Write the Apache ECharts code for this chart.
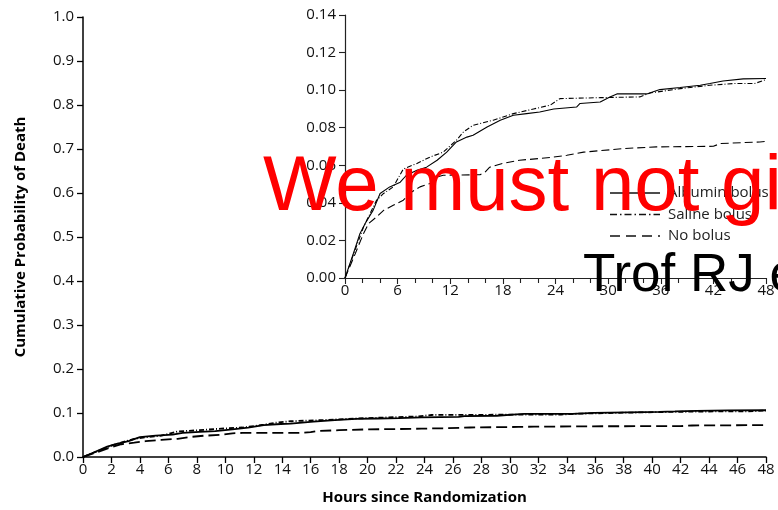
<!DOCTYPE html>
<html>
<head>
<meta charset="utf-8">
<script src="https://cdn.jsdelivr.net/npm/echarts@6/dist/echarts.min.js"></script>
<style>
html,body{margin:0;padding:0;background:#fff;}
#chart{width:778px;height:510px;}
</style>
</head>
<body>
<div id="chart"></div>
<script>
// ---- Data ----
const seriesNames = ['Albumin bolus', 'Saline bolus', 'No bolus'];

const albuminHours = [0, 0.95, 1.7, 2.3, 3.2, 4.0, 5.1, 6.3, 7.0, 8.2, 9.3, 10.5, 11.6, 12.7, 13.9, 14.6, 16.2, 17.7, 19.2, 20.7, 22.2, 23.8, 26.4, 26.8, 29.1, 30.2, 31.0, 34.4, 35.9, 38.2, 40.5, 41.6, 43.1, 45.4, 48];
const albuminProb  = [0, 0.013, 0.0236, 0.029, 0.036, 0.045, 0.0485, 0.051, 0.0547, 0.0573, 0.059, 0.0627, 0.067, 0.0724, 0.075, 0.076, 0.0804, 0.084, 0.0866, 0.0875, 0.0884, 0.090, 0.091, 0.0929, 0.0937, 0.0964, 0.098, 0.098, 0.1003, 0.1014, 0.1026, 0.1035, 0.1049, 0.106, 0.1062];

const salineHours = [0, 1.0, 2.1, 3.6, 4.4, 5.5, 6.65, 8.2, 9.7, 11.2, 12.7, 13.5, 14.6, 16.9, 19.2, 21.5, 23.4, 24.5, 29.1, 33.6, 34.8, 38.2, 41.6, 44.3, 46.7, 48];
const salineProb  = [0, 0.013, 0.027, 0.0414, 0.045, 0.0485, 0.058, 0.061, 0.0644, 0.067, 0.0733, 0.0777, 0.0813, 0.084, 0.0875, 0.090, 0.092, 0.0955, 0.0960, 0.0964, 0.0985, 0.1008, 0.1026, 0.1035, 0.1035, 0.1056];

const noBolusHours = [0, 1.0, 2.1, 2.7, 3.6, 4.4, 5.5, 6.65, 7.6, 8.55, 9.7, 10.5, 11.2, 15.4, 16.0, 16.5, 18.0, 19.9, 22.2, 23.8, 25.3, 27.2, 30.6, 31.7, 35.5, 42.0, 42.8, 47.3, 48];
const noBolusProb  = [0, 0.011, 0.0236, 0.029, 0.0325, 0.036, 0.0387, 0.0414, 0.0458, 0.0485, 0.0503, 0.0538, 0.0547, 0.0550, 0.0565, 0.059, 0.061, 0.0627, 0.0636, 0.0644, 0.0653, 0.067, 0.0684, 0.0689, 0.0698, 0.0701, 0.0716, 0.0724, 0.0727];

const mainYTicks = [0, 0.1, 0.2, 0.3, 0.4, 0.5, 0.6, 0.7, 0.8, 0.9, 1.0];
const mainXTicks = [0, 2, 4, 6, 8, 10, 12, 14, 16, 18, 20, 22, 24, 26, 28, 30, 32, 34, 36, 38, 40, 42, 44, 46, 48];
const insetYTicks = [0, 0.02, 0.04, 0.06, 0.08, 0.10, 0.12, 0.14];
const insetXTicks = [0, 6, 12, 18, 24, 30, 36, 42, 48];

const overlayText1 = 'We must not give up';
const overlayText2 = 'Trof RJ et al.';

// ---- Build ----
function pairs(h, v) { return h.map((x, i) => [x, v[i]]); }
const dataSets = [pairs(albuminHours, albuminProb), pairs(salineHours, salineProb), pairs(noBolusHours, noBolusProb)];
const insetDash = [null, [5, 2, 1, 2], [8, 4]];
const legendDash = [null, [7, 3, 1.5, 3], [10, 6]];
const mainDash = ['solid', [5, 2, 1, 2], [11, 5]];

const FONT = '"Open Sans", "Noto Sans", sans-serif';
const chart = echarts.init(document.getElementById('chart'), null, {renderer: 'canvas'});

const series = [];
seriesNames.forEach((name, i) => {
  series.push({
    name: name, type: 'line', xAxisIndex: 0, yAxisIndex: 0,
    data: dataSets[i], showSymbol: false, symbol: 'none',
    lineStyle: {color: '#000', width: 1.8, type: mainDash[i]},
    itemStyle: {color: '#000'},
    silent: true, animation: false, z: 3
  });
  series.push({
    name: name, type: 'line', xAxisIndex: 1, yAxisIndex: 1,
    data: dataSets[i], showSymbol: false, symbol: 'none',
    lineStyle: {color: '#000', width: 1.1, type: insetDash[i] || 'solid'},
    itemStyle: {color: '#000'},
    silent: true, animation: false, z: 4
  });
});

const axisLbl = {color: '#111', fontSize: 15, fontFamily: FONT};

// Legend drawn as graphic items (line sample + real text)
const legendX = 610, legendY0 = 193, legendStep = 21.5;
const legendGraphics = [];
seriesNames.forEach((name, i) => {
  const y = legendY0 + i * legendStep;
  legendGraphics.push({
    type: 'line', silent: true, z: 50,
    shape: {x1: legendX, y1: y, x2: legendX + 50, y2: y},
    style: {stroke: '#111', lineWidth: 1.4, lineDash: legendDash[i]}
  });
  legendGraphics.push({
    type: 'text', silent: true, z: 50, x: legendX + 58, y: y,
    style: {text: name, fill: '#222', font: '15px ' + FONT, verticalAlign: 'middle', align: 'left'}
  });
});

const option = {
  animation: false,
  backgroundColor: '#fff',
  grid: [
    {left: 83, right: 12, top: 17, bottom: 53},
    {left: 345, right: 12, top: 15, bottom: 232}
  ],
  xAxis: [
    {
      type: 'value', gridIndex: 0, min: 0, max: 48, interval: 2,
      axisLine: {show: true, lineStyle: {color: '#000', width: 1.5}},
      axisTick: {show: true, length: 6, lineStyle: {color: '#000', width: 1.3}},
      axisLabel: Object.assign({margin: 5, formatter: v => String(v)}, axisLbl),
      splitLine: {show: false},
      name: 'Hours since Randomization', nameLocation: 'middle', nameGap: 33,
      nameTextStyle: {fontSize: 15, fontWeight: 'bold', fontFamily: FONT, color: '#000'}
    },
    {
      type: 'value', gridIndex: 1, min: 0, max: 48, interval: 6,
      axisLine: {show: true, lineStyle: {color: '#222', width: 1.2}},
      axisTick: {show: true, length: 6, lineStyle: {color: '#222', width: 1.1}},
      minorTick: {show: true, splitNumber: 3, length: 5, lineStyle: {color: '#222', width: 1.1}},
      axisLabel: Object.assign({margin: 5, formatter: v => String(v)}, axisLbl),
      splitLine: {show: false}, minorSplitLine: {show: false}
    }
  ],
  yAxis: [
    {
      type: 'value', gridIndex: 0, min: 0, max: 1.0, interval: 0.1,
      axisLine: {show: true, lineStyle: {color: '#000', width: 1.5}},
      axisTick: {show: true, length: 6, lineStyle: {color: '#000', width: 1.3}},
      axisLabel: Object.assign({margin: 9, formatter: v => v.toFixed(1)}, axisLbl),
      splitLine: {show: false},
      name: 'Cumulative Probability of Death', nameLocation: 'middle', nameGap: 55, nameRotate: 90,
      nameTextStyle: {fontSize: 15, fontWeight: 'bold', fontFamily: FONT, color: '#000'}
    },
    {
      type: 'value', gridIndex: 1, min: 0, max: 0.14, interval: 0.02,
      axisLine: {show: true, lineStyle: {color: '#222', width: 1.2}},
      axisTick: {show: true, length: 6, lineStyle: {color: '#222', width: 1.1}},
      axisLabel: Object.assign({margin: 9, formatter: v => v.toFixed(2)}, axisLbl),
      splitLine: {show: false}
    }
  ],
  series: series,
  graphic: legendGraphics.concat([
    {type: 'text', x: 263, y: 188, silent: true, z: 100,
     style: {text: overlayText1, fill: '#ff0000', font: '78px "Liberation Sans", Arial, sans-serif', verticalAlign: 'middle'}},
    {type: 'text', x: 583, y: 276, silent: true, z: 100,
     style: {text: overlayText2, fill: '#000', font: '53px "Liberation Sans", Arial, sans-serif', verticalAlign: 'middle'}}
  ])
};
chart.setOption(option);
</script>
</body>
</html>
